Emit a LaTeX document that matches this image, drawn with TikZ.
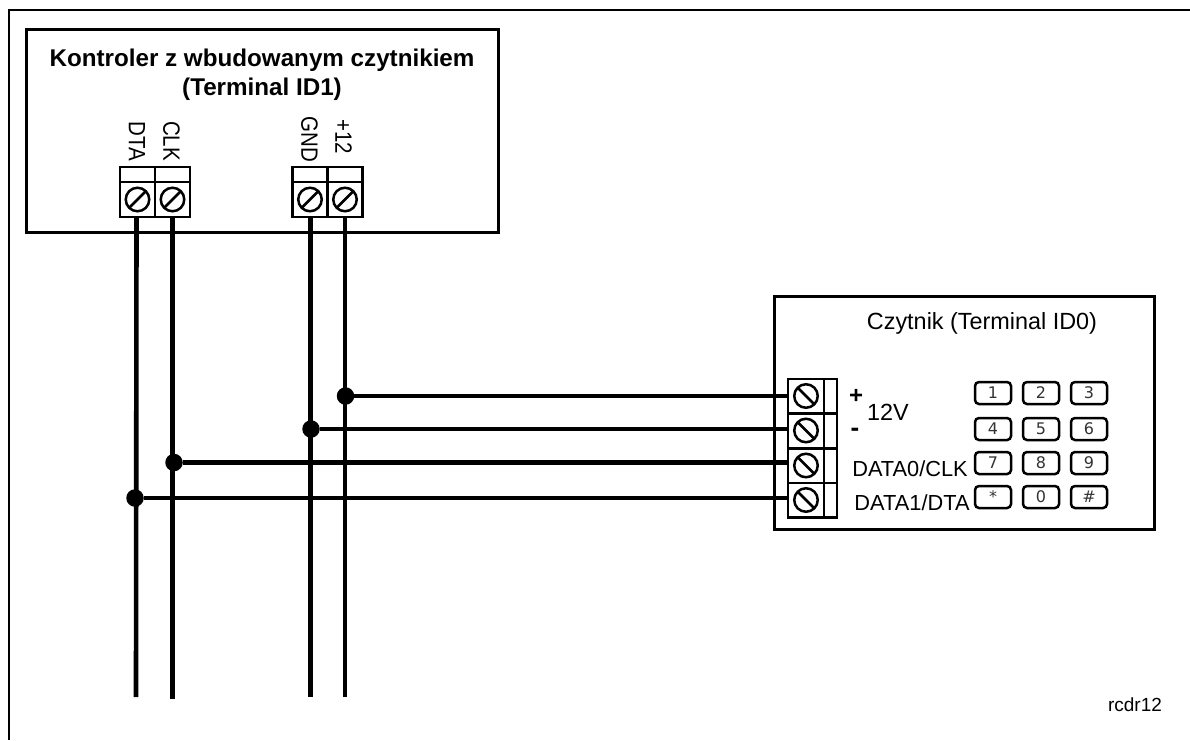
\documentclass[tikz,border=0pt]{standalone}
\usepackage{fontspec}
\setmainfont{Liberation Sans}
\newfontfamily\keyfont{DejaVu Sans}
\tikzset{
  box/.style = {draw, line width=3pt, inner sep=0pt},
  cell/.style = {draw, line width=2.5pt, inner sep=0pt, outer sep=0pt},
  screwup/.style = {circle, draw, line width=2.5pt, inner sep=0pt, minimum size=23.5pt,
    path picture={\draw[line width=2.5pt] (path picture bounding box.south west) -- (path picture bounding box.north east);}},
  screwdown/.style = {circle, draw, line width=2.5pt, inner sep=0pt, minimum size=23.5pt,
    path picture={\draw[line width=2.5pt] (path picture bounding box.north west) -- (path picture bounding box.south east);}},
  wire/.style = {line width=4.6pt},
  dot/.style = {circle, fill=black, inner sep=0pt, minimum size=17.5pt},
  pin/.style = {rotate=-90, yscale=1.15, inner sep=0pt, font=\fontsize{20.5}{24}\selectfont},
  label/.style = {inner sep=0pt, font=\fontsize{21.8}{25}\selectfont},
  key/.style = {draw, line width=2.5pt, rounded corners=4pt, minimum width=36pt, minimum height=22pt,
    inner sep=0pt, text=black!80, font=\keyfont\fontsize{16}{18}\selectfont}
}
\begin{document}
\begin{tikzpicture}[x=1pt, y=-1pt]
  \useasboundingbox (0,0) rectangle (1190,740);
  \draw[line width=2.6pt] (9,740) -- (9,10) -- (1190,10);

  % controller
  \node[box, minimum width=472pt, minimum height=203pt] (ctrl) at (262,131) {};
  \node[inner sep=0pt, align=center, font=\fontsize{24.2}{29}\selectfont\bfseries] (ctrltitle) at (262,75)
    {Kontroler z wbudowanym czytnikiem\\(Terminal ID1)};
  \foreach \n/\x/\t/\px/\ty in {DTA/137.5/DTA/137/141, CLK/172.5/CLK/171.5/141, GND/310/GND/309.5/139.5, PWR/345/+12/343.5/137} {
    \node[cell, minimum width=35pt, minimum height=15pt] (top\n) at (\x,174.5) {};
    \node[cell, minimum width=35pt, minimum height=35pt] (cell\n) at (\x,199.5) {};
    \node[screwup] (screw\n) at (cell\n) {};
    \node[pin] (pin\n) at (\px,\ty) {\t};
  }

  % reader
  \node[box, minimum width=380pt, minimum height=233pt] (reader) at (964,412.5) {};
  \node[label, font=\fontsize{23.4}{27}\selectfont] (readertitle) at (982,323) {Czytnik (Terminal ID0)};
  \foreach \n/\y in {A/396, B/430.5, C/465.5, D/500} {
    \node[cell, minimum width=36pt, minimum height=34.5pt] (cell\n) at (806,\y) {};
    \node[cell, minimum width=13pt, minimum height=34.5pt, anchor=west] (side\n) at (cell\n.east) {};
    \node[screwdown] (screw\n) at (cell\n) {};
  }
  \node[inner sep=0pt, font=\fontsize{24}{26}\selectfont\bfseries] (plus) at (856,396) {+};
  \node[inner sep=0pt, font=\fontsize{26}{28}\selectfont\bfseries] (minus) at (855,432) {-};
  \node[inner sep=0pt, font=\fontsize{23.4}{27}\selectfont] (volt) at (888,412) {12V};
  \node[label] (dataclk) at (910,469) {DATA0/CLK};
  \node[label] (datadta) at (912,503) {DATA1/DTA};
  \foreach \k/\x/\y in {1/993/393, 2/1041/393, 3/1089/393, 4/993/429, 5/1041/429, 6/1089/429,
                        7/993/463, 8/1041/463, 9/1089/463, */993/497, 0/1041/497, \#/1089/497}
    \node[key] at (\x,\y) {\k};

  % wires
  \coordinate (endDTA) at (136,697);
  \coordinate (endCLK) at (172.5,699);
  \coordinate (endGND) at (310.5,697);
  \coordinate (endPWR) at (345,697);
  \draw[wire] (cellDTA.south) ++(-1,0) -- (endDTA);
  \draw[wire] (cellCLK.south) -- (endCLK);
  \draw[wire] (cellGND.south) ++(0.5,0) -- (endGND);
  \draw[wire] (cellPWR.south) -- (endPWR);
  \node[dot] (dotPWR) at (345.5,396) {};
  \node[dot] (dotGND) at (311,429) {};
  \node[dot] (dotCLK) at (174,462.5) {};
  \node[dot] (dotDTA) at (135,498) {};
  \draw[wire] (dotPWR) -- (dotPWR -| cellA.west);
  \draw[wire] (dotGND) -- (dotGND -| cellB.west);
  \draw[wire] (dotCLK) -- (dotCLK -| cellC.west);
  \draw[wire] (dotDTA) -- (dotDTA -| cellD.west);

  \node[inner sep=0pt, font=\fontsize{19}{22}\selectfont] (tag) at (1135,705) {rcdr12};
\end{tikzpicture}
\end{document}
